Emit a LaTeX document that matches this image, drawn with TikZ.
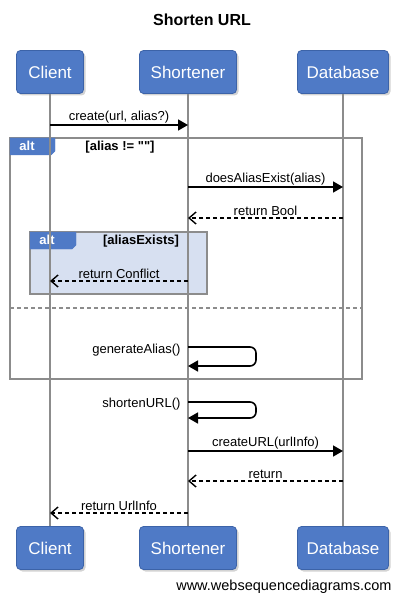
\documentclass[tikz,border=0pt]{standalone}
\usepackage{fontspec}
\setmainfont{Liberation Sans}
\newfontfamily\rawquote{Liberation Sans}
\usepackage{tikz}
\usetikzlibrary{arrows.meta,shadows,calc}
\definecolor{wsdBlue}  {HTML}{4F7AC6}
\definecolor{wsdEdge}  {HTML}{3C63A8}
\definecolor{wsdLine}  {HTML}{8C8C8C}
\definecolor{wsdPale}  {HTML}{D7E0F1}

\begin{document}
\begin{tikzpicture}[
  x=1pt, y=-1pt,
  font=\fontsize{13}{15}\selectfont,
  actor/.style ={draw=wsdEdge, fill=wsdBlue, rounded corners=4pt, line width=0.8pt,
                 text=white, minimum height=43pt, inner xsep=8pt,
                 font=\fontsize{17}{19}\selectfont,
                 drop shadow={shadow xshift=2pt, shadow yshift=-2pt, opacity=0.35}},
  life/.style  ={draw=wsdLine, line width=1.6pt},
  frm/.style   ={draw=wsdLine, line width=1.6pt},
  tab/.style   ={fill=wsdBlue, draw=wsdBlue},
  call/.style  ={line width=1.6pt, -{Triangle[length=10pt, width=11pt]}},
  back/.style  ={line width=1.4pt, dash pattern=on 4pt off 3pt,
                 -{Straight Barb[length=7pt, width=12pt, line width=1.4pt]}},
  msg/.style   ={above, inner sep=1.5pt},
  guard/.style ={font=\bfseries\fontsize{13}{15}\selectfont},
]
\useasboundingbox (0,0) rectangle (404,604);

% title
\node[font=\bfseries\fontsize{16}{18}\selectfont] (title) at (202,20) {Shorten URL};

% frames (behind the lifelines)
\draw[frm] (10,138) rectangle (362,379);
\draw[frm, fill=wsdPale] (30,232) rectangle (207,294);
\draw[frm, dash pattern=on 4pt off 3pt] (10,308) -- (362,308);
\path[tab] (10,138) -- (55,138) -- (55,151) -- (51,155) -- (10,155) -- cycle;
\path[tab] (30,232) -- (76,232) -- (76,245) -- (72,249) -- (30,249) -- cycle;
\node[text=white, guard] (altA) at (27,146) {alt};
\node[text=white, guard] (altB) at (47,240) {alt};
\node[guard] (grdA) at (120,147) {[alias != {\rawquote""}]};
\node[guard] (grdB) at (141,241) {[aliasExists]};

% actors
\node[actor, minimum width=67pt] (clT) at (50,72)  {Client};
\node[actor, minimum width=97pt] (shT) at (188,72) {Shortener};
\node[actor, minimum width=91pt] (dbT) at (343,72) {Database};
\node[actor, minimum width=67pt] (clB) at (50,548)  {Client};
\node[actor, minimum width=97pt] (shB) at (188,548) {Shortener};
\node[actor, minimum width=91pt] (dbB) at (343,548) {Database};

% lifelines
\draw[life] (clT) -- (clB);
\draw[life] (shT) -- (shB);
\draw[life] (dbT) -- (dbB);

% points on the lifelines
\coordinate (c1) at (clT |- 0,125);
\coordinate (s1) at (shT |- 0,125);
\coordinate (s2) at (shT |- 0,187);
\coordinate (d2) at (dbT |- 0,187);
\coordinate (s3) at (shT |- 0,218);
\coordinate (d3) at (dbT |- 0,218);
\coordinate (s4) at (shT |- 0,281);
\coordinate (c4) at (clT |- 0,281);
\coordinate (s5) at (shT |- 0,347);
\coordinate (s5b) at (shT |- 0,366);
\coordinate (s6) at (shT |- 0,402);
\coordinate (s6b) at (shT |- 0,418);
\coordinate (s7) at (shT |- 0,451);
\coordinate (d7) at (dbT |- 0,451);
\coordinate (s8) at (shT |- 0,481);
\coordinate (d8) at (dbT |- 0,481);
\coordinate (s9) at (shT |- 0,513);
\coordinate (c9) at (clT |- 0,513);

% messages
\draw[call] (c1) -- (s1) node[msg, midway] {create(url, alias?)};
\draw[call] (s2) -- (d2) node[msg, midway] {doesAliasExist(alias)};
\draw[back] (d3) -- (s3) node[msg, midway] {return Bool};
\draw[back] (s4) -- (c4) node[msg, midway] {return Conflict};
\draw[call, rounded corners=6pt] (s5) -- ++(68,0) |- (s5b);
\node[anchor=east] (lblGen) at ($(s5)+(-4,3)$) {generateAlias()};
\draw[call, rounded corners=6pt] (s6) -- ++(68,0) |- (s6b);
\node[anchor=east] (lblShort) at ($(s6)+(-4,2)$) {shortenURL()};
\draw[call] (s7) -- (d7) node[msg, midway] {createURL(urlInfo)};
\draw[back] (d8) -- (s8) node[msg, midway] {return};
\draw[back] (s9) -- (c9) node[msg, midway] {return UrlInfo};

% footer
\node[anchor=east, font=\fontsize{14.5}{16}\selectfont] (foot) at (395,587) {www.websequencediagrams.com};

\end{tikzpicture}
\end{document}
